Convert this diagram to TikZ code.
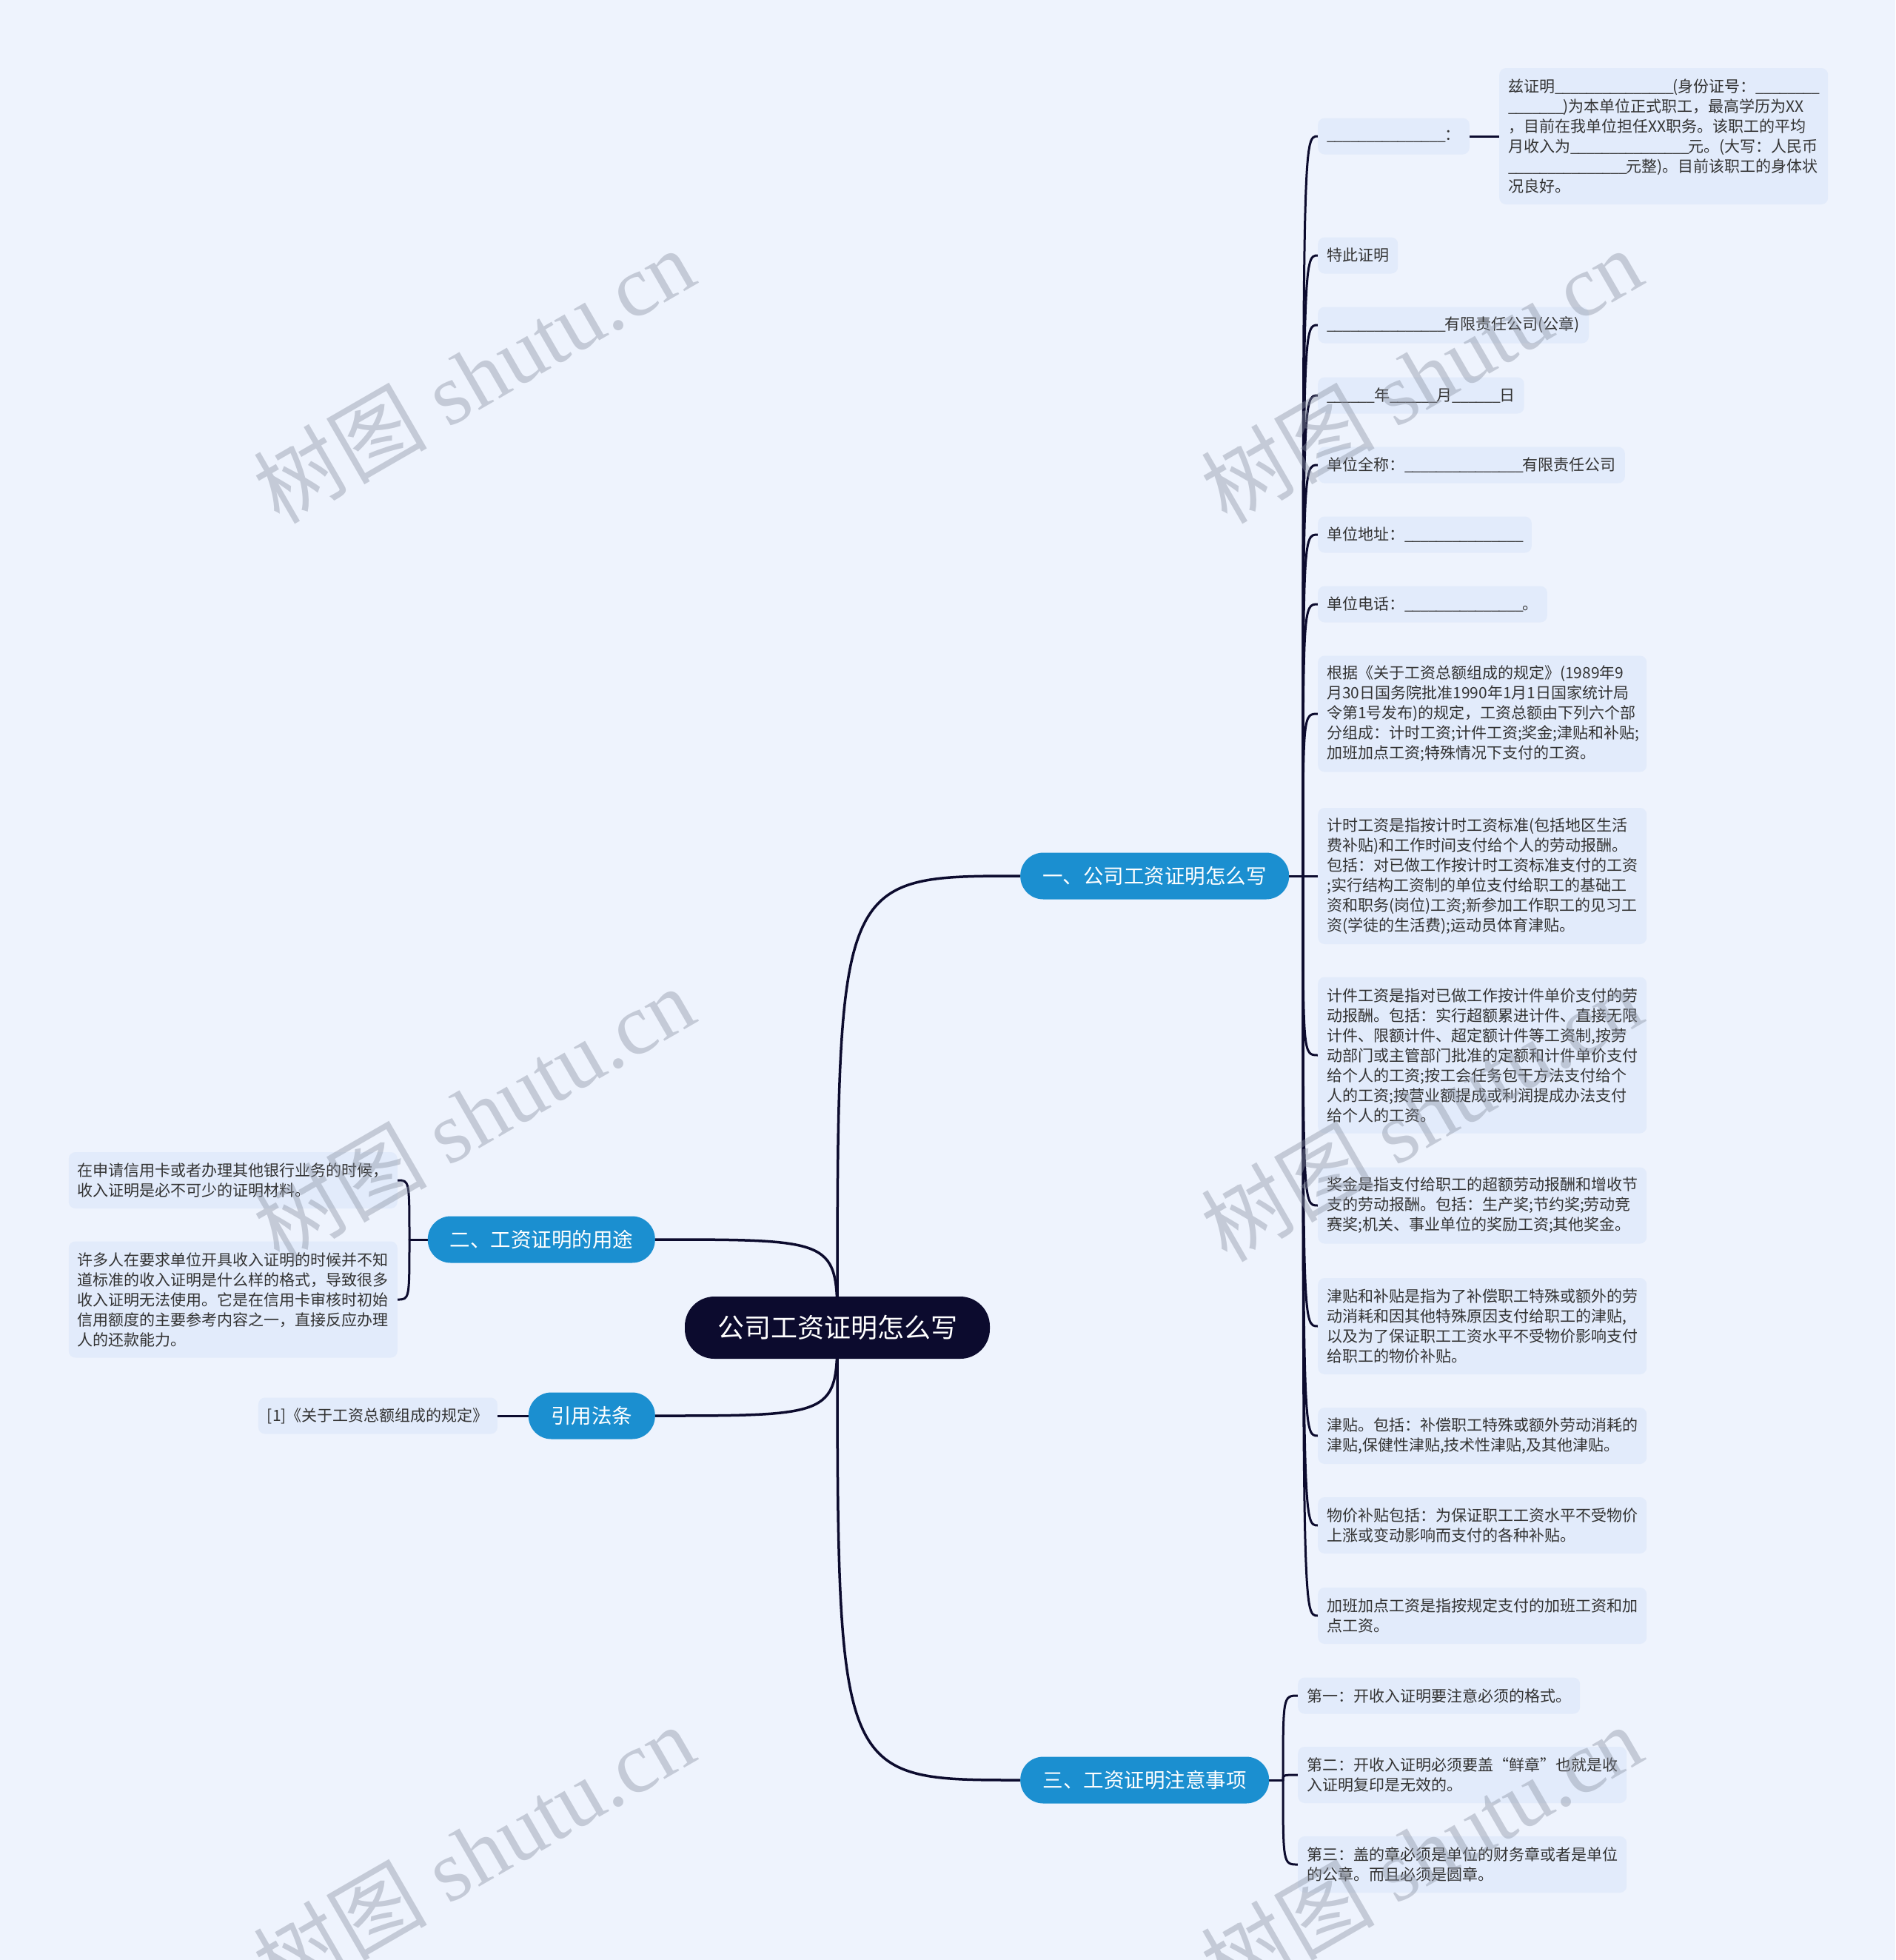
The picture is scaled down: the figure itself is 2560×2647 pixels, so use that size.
\documentclass[tikz,border=0pt]{standalone}
\usepackage{fontspec}
\newfontfamily\cjk{Noto Sans CJK SC}
\newfontfamily\wmserif{Liberation Serif}
\definecolor{bgc}{HTML}{EEF3FD}
\definecolor{leaff}{HTML}{E2EBFB}
\definecolor{navy}{HTML}{0C0B2E}
\definecolor{blu}{HTML}{1B8FD0}
\definecolor{txt}{HTML}{333333}
\definecolor{wm}{HTML}{8C93A3}
\pgfdeclarelayer{back}\pgfdeclarelayer{bg}\pgfdeclarelayer{fg}
\pgfsetlayers{back,bg,main,fg}
\newcommand\us{\_\kern-1.1pt}
\newcommand\uu{\us\us\us\us\us}
\tikzset{
 rootnode/.style={fill=navy, text=white, rounded corners=40pt, minimum width=412pt, minimum height=84pt, inner sep=0pt, font=\cjk\fontsize{36}{40}\selectfont},
 branch/.style={fill=blu, text=white, rounded corners=31pt, minimum height=63pt, inner sep=0pt, font=\cjk\fontsize{27.5}{32}\selectfont},
 leaf/.style={fill=leaff, text=txt, rounded corners=9pt, inner xsep=12pt, inner ysep=0pt, minimum height={27*#1+22}, font=\cjk\fontsize{21}{27}\selectfont, align=left},
 wide/.style={text width=420pt},
 link/.style={draw=navy, line width=3.5pt, line cap=round},
 sub/.style={draw=navy, line width=3pt, line cap=round},
 wmark/.style={text=wm, opacity=0.42, rotate=30, inner sep=0pt, font=\wmserif\fontsize{117}{125}\selectfont}
}
\begin{document}
\begin{tikzpicture}[x=1pt,y=-1pt]
\useasboundingbox (0,0) rectangle (2560,2647);
\begin{pgfonlayer}{back}
\fill[bgc] (0,0) rectangle (2560,2647);
\end{pgfonlayer}

% root and branches
\node[rootnode] (root) at (1131,1793) {公司工资证明怎么写};
\node[branch, minimum width=363pt, anchor=west] (b1) at (1378,1183) {一、公司工资证明怎么写};
\node[branch, minimum width=307pt, anchor=east] (b2) at (885,1674) {二、工资证明的用途};
\node[branch, minimum width=336pt, anchor=west] (b3) at (1378,2404) {三、工资证明注意事项};
\node[branch, minimum width=171pt, anchor=east] (b4) at (885,1912) {引用法条};

% branch 1 leaves
\node[leaf=1, anchor=west] (l0) at (1780,184) {\uu{}\uu{}\uu{}：};
\node[leaf=6, wide, anchor=west] (l0a) at (2025,184) {兹证明\uu{}\uu{}\uu{}(身份证号：\uu{}\us\us\us\\\uu{}\us\us)为本单位正式职工，最高学历为XX\\，目前在我单位担任XX职务。该职工的平均\\月收入为\uu{}\uu{}\uu{}元。(大写：人民币\\\uu{}\uu{}\uu{}元整)。目前该职工的身体状\\况良好。};
\node[leaf=1, anchor=west] (l1) at (1780,345) {特此证明};
\node[leaf=1, anchor=west] (l2) at (1780,439) {\uu{}\uu{}\uu{}有限责任公司(公章)};
\node[leaf=1, anchor=west] (l3) at (1780,534) {\uu{}\us{}年\uu{}\us{}月\uu{}\us{}日};
\node[leaf=1, anchor=west] (l4) at (1780,628) {单位全称：\uu{}\uu{}\uu{}有限责任公司};
\node[leaf=1, anchor=west] (l5) at (1780,722) {单位地址：\uu{}\uu{}\uu{}};
\node[leaf=1, anchor=west] (l6) at (1780,816) {单位电话：\uu{}\uu{}\uu{}。};
\node[leaf=5, wide, anchor=west] (l7) at (1780,964) {根据《关于工资总额组成的规定》(1989年9\\月30日国务院批准1990年1月1日国家统计局\\令第1号发布)的规定，工资总额由下列六个部\\分组成：计时工资;计件工资;奖金;津贴和补贴;\\加班加点工资;特殊情况下支付的工资。};
\node[leaf=6, wide, anchor=west] (l8) at (1780,1183) {计时工资是指按计时工资标准(包括地区生活\\费补贴)和工作时间支付给个人的劳动报酬。\\包括：对已做工作按计时工资标准支付的工资\\;实行结构工资制的单位支付给职工的基础工\\资和职务(岗位)工资;新参加工作职工的见习工\\资(学徒的生活费);运动员体育津贴。};
\node[leaf=7, wide, anchor=west] (l9) at (1780,1425) {计件工资是指对已做工作按计件单价支付的劳\\动报酬。包括：实行超额累进计件、直接无限\\计件、限额计件、超定额计件等工资制,按劳\\动部门或主管部门批准的定额和计件单价支付\\给个人的工资;按工会任务包干方法支付给个\\人的工资;按营业额提成或利润提成办法支付\\给个人的工资。};
\node[leaf=3, wide, anchor=west] (l10) at (1780,1628) {奖金是指支付给职工的超额劳动报酬和增收节\\支的劳动报酬。包括：生产奖;节约奖;劳动竞\\赛奖;机关、事业单位的奖励工资;其他奖金。};
\node[leaf=4, wide, anchor=west] (l11) at (1780,1791) {津贴和补贴是指为了补偿职工特殊或额外的劳\\动消耗和因其他特殊原因支付给职工的津贴,\\以及为了保证职工工资水平不受物价影响支付\\给职工的物价补贴。};
\node[leaf=2, wide, anchor=west] (l12) at (1780,1939) {津贴。包括：补偿职工特殊或额外劳动消耗的\\津贴,保健性津贴,技术性津贴,及其他津贴。};
\node[leaf=2, wide, anchor=west] (l13) at (1780,2060) {物价补贴包括：为保证职工工资水平不受物价\\上涨或变动影响而支付的各种补贴。};
\node[leaf=2, wide, anchor=west] (l14) at (1780,2182) {加班加点工资是指按规定支付的加班工资和加\\点工资。};

% branch 2 leaves
\node[leaf=2, wide, anchor=east] (m1) at (537,1594) {在申请信用卡或者办理其他银行业务的时候，\\收入证明是必不可少的证明材料。};
\node[leaf=5, wide, anchor=east] (m2) at (537,1755) {许多人在要求单位开具收入证明的时候并不知\\道标准的收入证明是什么样的格式，导致很多\\收入证明无法使用。它是在信用卡审核时初始\\信用额度的主要参考内容之一，直接反应办理\\人的还款能力。};

% branch 3 leaves
\node[leaf=1, anchor=west] (n1) at (1753,2290) {第一：开收入证明要注意必须的格式。};
\node[leaf=2, wide, anchor=west] (n2) at (1753,2397) {第二：开收入证明必须要盖“鲜章”也就是收\\入证明复印是无效的。};
\node[leaf=2, wide, anchor=west] (n3) at (1753,2518) {第三：盖的章必须是单位的财务章或者是单位\\的公章。而且必须是圆章。};

% branch 4 leaf
\node[leaf=1, anchor=east] (k1) at (672,1912) {[1]《关于工资总额组成的规定》};

\coordinate (s1) at (1760,1183);
\coordinate (s2) at (553,1674);
\coordinate (s3) at (1733,2404);

\begin{pgfonlayer}{bg}
\draw[link] (root.center) .. controls (root.center |- b1.west) .. (b1.west);
\draw[link] (root.center) .. controls (root.center |- b3.west) .. (b3.west);
\draw[link] (root.center) .. controls (root.center |- b2.east) .. (b2.east);
\draw[link] (root.center) .. controls (root.center |- b4.east) .. (b4.east);
\draw[sub] (b1.east) -- (s1);
\foreach \n in {l0,l1,l2,l3,l4,l5,l6,l7,l8,l9,l10,l11,l12,l13,l14}
  \draw[sub] (s1) .. controls (s1 |- \n.west) .. (\n.west);
\draw[sub] (l0.east) -- (l0a.west);
\draw[sub] (b2.west) -- (s2);
\foreach \n in {m1,m2}
  \draw[sub] (s2) .. controls (s2 |- \n.east) .. (\n.east);
\draw[sub] (b3.east) -- (s3);
\foreach \n in {n1,n2,n3}
  \draw[sub] (s3) .. controls (s3 |- \n.west) .. (\n.west);
\draw[sub] (b4.west) -- (k1.east);
\end{pgfonlayer}

\begin{pgfonlayer}{fg}
\foreach \x/\y [count=\i] in {640/507,1920/507,640/1504,1920/1504,640/2501,1920/2501}
  \node[wmark] (wm\i) at (\x,\y) {{\cjk 树图} shutu.cn};
\end{pgfonlayer}
\end{tikzpicture}
\end{document}
